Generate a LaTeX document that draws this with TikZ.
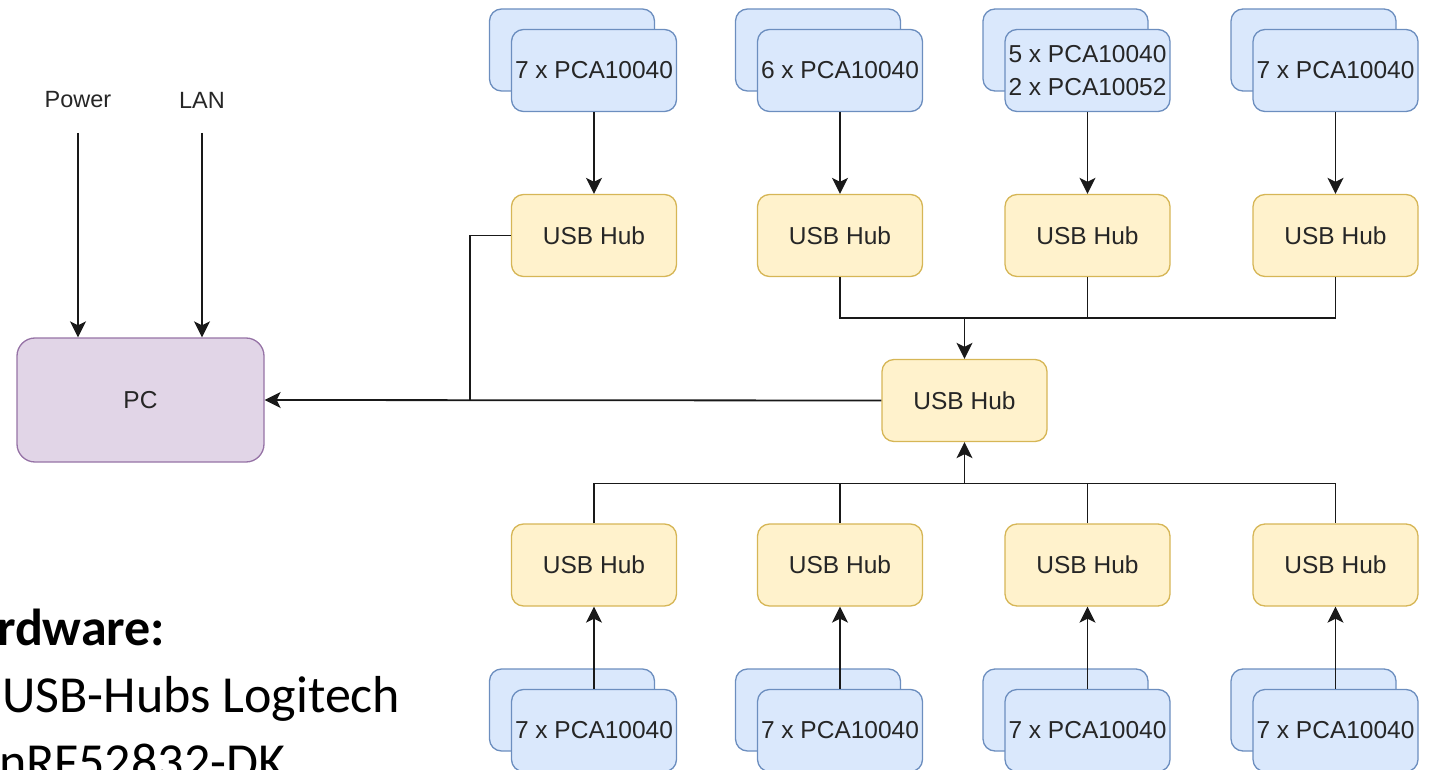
\documentclass[tikz,border=0pt]{standalone}
\usepackage{fontspec}
\setmainfont{Liberation Sans}
\newfontfamily\calibri{Carlito}
\usetikzlibrary{arrows.meta}

\definecolor{boardfill}{HTML}{DAE8FC}
\definecolor{boardline}{HTML}{6C8EBF}
\definecolor{hubfill}{HTML}{FFF2CC}
\definecolor{hubline}{HTML}{D6B656}
\definecolor{pcfill}{HTML}{E1D5E7}
\definecolor{pcline}{HTML}{9673A6}

\begin{document}
\begin{tikzpicture}[x=1pt,y=-1pt,
    box/.style={draw, rounded corners=12pt, minimum width=165pt, minimum height=82pt,
        inner sep=0pt, line width=1.3pt, text=black!85,
        font=\fontsize{24.5}{33}\selectfont},
    board/.style={box, fill=boardfill, draw=boardline, align=left},
    hub/.style={box, fill=hubfill, draw=hubline},
    link/.style={line width=1.8pt, black!90},
    arr/.style={link, -{Stealth[length=16pt,width=16pt,inset=4pt]}},
    hwtext/.style={anchor=base west, inner sep=0pt, font=\calibri\fontsize{52}{67}\selectfont}]
\useasboundingbox (0,0) rectangle (1435,770);

% boards and their hubs, top and bottom row
\foreach \x/\t [count=\i] in {594/{7 x PCA10040}, 840/{6 x PCA10040},
        1087.5/{5 x PCA10040\\2 x PCA10052}, 1335.5/{7 x PCA10040}} {
    \node[board] (bb\i) at (\x-22,50) {};
    \node[board] (bt\i) at (\x,70.5) {\t};
    \node[hub] (ht\i) at (\x,235.5) {USB Hub};
    \draw[arr] (bt\i) -- (ht\i);
    \node[board] (cb\i) at (\x-22,710) {};
    \node[board] (ct\i) at (\x,730.5) {7 x PCA10040};
    \node[hub] (hb\i) at (\x,565) {USB Hub};
    \draw[arr] (ct\i) -- (hb\i);
}

\node[hub] (hm) at (964.5,400.5) {USB Hub};
\node[box, fill=pcfill, draw=pcline, minimum width=247pt, minimum height=124pt,
    rounded corners=18pt] (pc) at (140.5,400) {PC};

% power and network into the PC
\node[font=\fontsize{23.5}{28}\selectfont, text=black!85] (pw) at (78,100) {Power};
\node[font=\fontsize{23.5}{28}\selectfont, text=black!85] (lan) at (202,100) {LAN};
\coordinate (pwin) at (78,133);
\coordinate (lanin) at (202,133);
\draw[arr] (pwin) -- (pwin |- pc.north);
\draw[arr] (lanin) -- (lanin |- pc.north);

% hub tree
\coordinate (jt) at (964.5,318);
\coordinate (jb) at (964.5,483.5);
\coordinate (jl) at (470,400.5);
\draw[link] (ht2.south) |- (jt) -| (ht4.south);
\draw[link] (ht3.south) -- (ht3.south |- jt);
\draw[arr] (jt) -- (hm.north);
\draw[link] (hb1.north) |- (jb) -| (hb4.north);
\draw[link] (hb2.north) -- (hb2.north |- jb);
\draw[link] (hb3.north) -- (hb3.north |- jb);
\draw[arr] (jb) -- (hm.south);
\draw[link] (ht1.west) -| (jl);
\draw[arr] (hm.west) -- (pc.east);

\node[hwtext, font=\calibri\bfseries\fontsize{52}{67}\selectfont] (hw1) at (-3,645) {rdware:};
\node[hwtext] (hw2) at (2,712) {USB-Hubs Logitech};
\node[hwtext] (hw3) at (-1,779) {nRF52832-DK};
\end{tikzpicture}
\end{document}
